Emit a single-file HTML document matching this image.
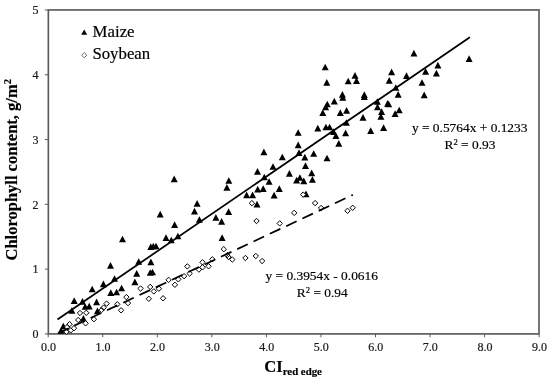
<!DOCTYPE html>
<html><head><meta charset="utf-8"><style>
html,body{margin:0;padding:0;background:#fff;}
body{width:550px;height:382px;overflow:hidden;}
svg{display:block;filter:blur(0.35px);}
text{font-family:"Liberation Serif",serif;fill:#000;stroke:#000;stroke-width:0.18px;}
.tk{font-size:12px;fill:#222;}
.lg{font-size:16.8px;}
.eq{font-size:13.4px;}
.ti{font-size:16.5px;font-weight:bold;}
</style></head><body>
<svg width="550" height="382" viewBox="0 0 550 382">
<rect width="550" height="382" fill="#fff"/>
<rect x="48.35" y="9.95" width="490.65" height="323.95" fill="none" stroke="#5a5a5a" stroke-width="1.65"/>
<line x1="44.8" y1="333.90" x2="48.2" y2="333.90" stroke="#5a5a5a" stroke-width="1"/>
<text x="38.6" y="338.10" text-anchor="end" class="tk">0</text>
<line x1="44.8" y1="269.12" x2="48.2" y2="269.12" stroke="#5a5a5a" stroke-width="1"/>
<text x="38.6" y="273.32" text-anchor="end" class="tk">1</text>
<line x1="44.8" y1="204.34" x2="48.2" y2="204.34" stroke="#5a5a5a" stroke-width="1"/>
<text x="38.6" y="208.54" text-anchor="end" class="tk">2</text>
<line x1="44.8" y1="139.56" x2="48.2" y2="139.56" stroke="#5a5a5a" stroke-width="1"/>
<text x="38.6" y="143.76" text-anchor="end" class="tk">3</text>
<line x1="44.8" y1="74.78" x2="48.2" y2="74.78" stroke="#5a5a5a" stroke-width="1"/>
<text x="38.6" y="78.98" text-anchor="end" class="tk">4</text>
<line x1="44.8" y1="10.00" x2="48.2" y2="10.00" stroke="#5a5a5a" stroke-width="1"/>
<text x="38.6" y="14.20" text-anchor="end" class="tk">5</text>
<line x1="48.20" y1="333.9" x2="48.20" y2="337.3" stroke="#5a5a5a" stroke-width="1"/>
<text x="48.50" y="351.4" text-anchor="middle" class="tk">0.0</text>
<line x1="102.75" y1="333.9" x2="102.75" y2="337.3" stroke="#5a5a5a" stroke-width="1"/>
<text x="103.05" y="351.4" text-anchor="middle" class="tk">1.0</text>
<line x1="157.30" y1="333.9" x2="157.30" y2="337.3" stroke="#5a5a5a" stroke-width="1"/>
<text x="157.60" y="351.4" text-anchor="middle" class="tk">2.0</text>
<line x1="211.85" y1="333.9" x2="211.85" y2="337.3" stroke="#5a5a5a" stroke-width="1"/>
<text x="212.15" y="351.4" text-anchor="middle" class="tk">3.0</text>
<line x1="266.40" y1="333.9" x2="266.40" y2="337.3" stroke="#5a5a5a" stroke-width="1"/>
<text x="266.70" y="351.4" text-anchor="middle" class="tk">4.0</text>
<line x1="320.95" y1="333.9" x2="320.95" y2="337.3" stroke="#5a5a5a" stroke-width="1"/>
<text x="321.25" y="351.4" text-anchor="middle" class="tk">5.0</text>
<line x1="375.50" y1="333.9" x2="375.50" y2="337.3" stroke="#5a5a5a" stroke-width="1"/>
<text x="375.80" y="351.4" text-anchor="middle" class="tk">6.0</text>
<line x1="430.05" y1="333.9" x2="430.05" y2="337.3" stroke="#5a5a5a" stroke-width="1"/>
<text x="430.35" y="351.4" text-anchor="middle" class="tk">7.0</text>
<line x1="484.60" y1="333.9" x2="484.60" y2="337.3" stroke="#5a5a5a" stroke-width="1"/>
<text x="484.90" y="351.4" text-anchor="middle" class="tk">8.0</text>
<line x1="539.15" y1="333.9" x2="539.15" y2="337.3" stroke="#5a5a5a" stroke-width="1"/>
<text x="539.45" y="351.4" text-anchor="middle" class="tk">9.0</text>
<path fill="#000" d="M63.30,322.65L66.80,329.35L59.80,329.35ZM61.00,327.15L64.50,333.85L57.50,333.85ZM74.20,297.25L77.70,303.95L70.70,303.95ZM82.50,298.05L86.00,304.75L79.00,304.75ZM96.60,298.45L100.10,305.15L93.10,305.15ZM85.20,303.15L88.70,309.85L81.70,309.85ZM89.20,302.75L92.70,309.45L85.70,309.45ZM71.90,307.15L75.40,313.85L68.40,313.85ZM97.40,307.55L100.90,314.25L93.90,314.25ZM83.40,314.95L86.90,321.65L79.90,321.65ZM92.20,285.65L95.70,292.35L88.70,292.35ZM103.40,280.45L106.90,287.15L99.90,287.15ZM114.50,275.15L118.00,281.85L111.00,281.85ZM134.90,278.55L138.40,285.25L131.40,285.25ZM110.80,289.25L114.30,295.95L107.30,295.95ZM116.60,288.65L120.10,295.35L113.10,295.35ZM121.60,284.65L125.10,291.35L118.10,291.35ZM122.50,235.65L126.00,242.35L119.00,242.35ZM110.50,262.05L114.00,268.75L107.00,268.75ZM138.70,258.15L142.20,264.85L135.20,264.85ZM150.90,258.55L154.40,265.25L147.40,265.25ZM136.70,269.95L140.20,276.65L133.20,276.65ZM150.20,269.15L153.70,275.85L146.70,275.85ZM152.50,268.65L156.00,275.35L149.00,275.35ZM150.80,243.25L154.30,249.95L147.30,249.95ZM153.30,242.85L156.80,249.55L149.80,249.55ZM156.00,242.65L159.50,249.35L152.50,249.35ZM160.20,210.85L163.70,217.55L156.70,217.55ZM174.60,221.25L178.10,227.95L171.10,227.95ZM166.00,234.35L169.50,241.05L162.50,241.05ZM171.30,236.65L174.80,243.35L167.80,243.35ZM177.90,232.65L181.40,239.35L174.40,239.35ZM197.10,199.95L200.60,206.65L193.60,206.65ZM194.50,207.75L198.00,214.45L191.00,214.45ZM199.40,216.15L202.90,222.85L195.90,222.85ZM174.20,175.45L177.70,182.15L170.70,182.15ZM222.10,234.35L225.60,241.05L218.60,241.05ZM228.60,208.35L232.10,215.05L225.10,215.05ZM215.90,214.05L219.40,220.75L212.40,220.75ZM221.60,217.95L225.10,224.65L218.10,224.65ZM257.00,200.75L260.50,207.45L253.50,207.45ZM228.80,177.15L232.30,183.85L225.30,183.85ZM226.90,184.05L230.40,190.75L223.40,190.75ZM257.50,167.95L261.00,174.65L254.00,174.65ZM257.70,185.75L261.20,192.45L254.20,192.45ZM246.60,191.45L250.10,198.15L243.10,198.15ZM252.60,191.45L256.10,198.15L249.10,198.15ZM263.90,148.45L267.40,155.15L260.40,155.15ZM282.30,153.65L285.80,160.35L278.80,160.35ZM299.00,149.25L302.50,155.95L295.50,155.95ZM304.80,153.85L308.30,160.55L301.30,160.55ZM313.70,150.15L317.20,156.85L310.20,156.85ZM273.00,163.15L276.50,169.85L269.50,169.85ZM305.50,162.35L309.00,169.05L302.00,169.05ZM289.40,169.95L292.90,176.65L285.90,176.65ZM311.70,169.55L315.20,176.25L308.20,176.25ZM264.30,173.65L267.80,180.35L260.80,180.35ZM269.10,178.15L272.60,184.85L265.60,184.85ZM296.60,176.75L300.10,183.45L293.10,183.45ZM299.90,174.15L303.40,180.85L296.40,180.85ZM303.80,177.45L307.30,184.15L300.30,184.15ZM312.40,176.15L315.90,182.85L308.90,182.85ZM263.20,185.35L266.70,192.05L259.70,192.05ZM279.30,185.35L282.80,192.05L275.80,192.05ZM274.10,191.85L277.60,198.55L270.60,198.55ZM306.00,190.55L309.50,197.25L302.50,197.25ZM322.80,109.35L326.30,116.05L319.30,116.05ZM340.30,109.35L343.80,116.05L336.80,116.05ZM346.60,107.05L350.10,113.75L343.10,113.75ZM363.00,113.95L366.50,120.65L359.50,120.65ZM317.80,124.85L321.30,131.55L314.30,131.55ZM325.90,123.65L329.40,130.35L322.40,130.35ZM329.60,123.65L333.10,130.35L326.10,130.35ZM346.40,119.15L349.90,125.85L342.90,125.85ZM333.50,128.25L337.00,134.95L330.00,134.95ZM335.90,132.25L339.40,138.95L332.40,138.95ZM345.60,129.55L349.10,136.25L342.10,136.25ZM338.80,140.05L342.30,146.75L335.30,146.75ZM327.00,154.65L330.50,161.35L323.50,161.35ZM298.20,129.15L301.70,135.85L294.70,135.85ZM298.20,141.45L301.70,148.15L294.70,148.15ZM325.20,63.65L328.70,70.35L321.70,70.35ZM326.80,79.05L330.30,85.75L323.30,85.75ZM348.20,77.65L351.70,84.35L344.70,84.35ZM355.00,72.05L358.50,78.75L351.50,78.75ZM356.50,77.25L360.00,83.95L353.00,83.95ZM342.40,91.05L345.90,97.75L338.90,97.75ZM342.80,93.95L346.30,100.65L339.30,100.65ZM334.30,97.75L337.80,104.45L330.80,104.45ZM327.30,100.65L330.80,107.35L323.80,107.35ZM325.60,103.55L329.10,110.25L322.10,110.25ZM391.60,68.45L395.10,75.15L388.10,75.15ZM389.20,76.95L392.70,83.65L385.70,83.65ZM406.50,72.25L410.00,78.95L403.00,78.95ZM364.30,91.35L367.80,98.05L360.80,98.05ZM364.30,93.35L367.80,100.05L360.80,100.05ZM395.80,84.15L399.30,90.85L392.30,90.85ZM398.20,90.95L401.70,97.65L394.70,97.65ZM377.30,98.15L380.80,104.85L373.80,104.85ZM377.50,103.45L381.00,110.15L374.00,110.15ZM388.70,100.65L392.20,107.35L385.20,107.35ZM387.60,100.05L391.10,106.75L384.10,106.75ZM399.20,106.65L402.70,113.35L395.70,113.35ZM413.90,49.85L417.40,56.55L410.40,56.55ZM425.60,67.95L429.10,74.65L422.10,74.65ZM437.90,61.85L441.40,68.55L434.40,68.55ZM436.40,69.75L439.90,76.45L432.90,76.45ZM469.10,55.35L472.60,62.05L465.60,62.05ZM422.00,79.15L425.50,85.85L418.50,85.85ZM424.20,91.55L427.70,98.25L420.70,98.25ZM381.60,108.35L385.10,115.05L378.10,115.05ZM380.90,112.95L384.40,119.65L377.40,119.65ZM395.10,110.35L398.60,117.05L391.60,117.05ZM370.70,127.35L374.20,134.05L367.20,134.05ZM383.60,124.35L387.10,131.05L380.10,131.05Z"/>
<path fill="#fff" stroke="#000" stroke-width="1.0" d="M69.60,321.50L72.30,324.20L69.60,326.90L66.90,324.20ZM67.10,324.40L69.80,327.10L67.10,329.80L64.40,327.10ZM74.00,325.50L76.70,328.20L74.00,330.90L71.30,328.20ZM70.70,327.70L73.40,330.40L70.70,333.10L68.00,330.40ZM66.40,329.10L69.10,331.80L66.40,334.50L63.70,331.80ZM78.20,317.30L80.90,320.00L78.20,322.70L75.50,320.00ZM80.00,310.30L82.70,313.00L80.00,315.70L77.30,313.00ZM86.30,310.10L89.00,312.80L86.30,315.50L83.60,312.80ZM85.60,320.60L88.30,323.30L85.60,326.00L82.90,323.30ZM93.90,316.50L96.60,319.20L93.90,321.90L91.20,319.20ZM101.50,307.30L104.20,310.00L101.50,312.70L98.80,310.00ZM103.60,304.90L106.30,307.60L103.60,310.30L100.90,307.60ZM106.60,300.90L109.30,303.60L106.60,306.30L103.90,303.60ZM117.30,301.60L120.00,304.30L117.30,307.00L114.60,304.30ZM121.10,307.60L123.80,310.30L121.10,313.00L118.40,310.30ZM126.40,294.40L129.10,297.10L126.40,299.80L123.70,297.10ZM128.00,300.40L130.70,303.10L128.00,305.80L125.30,303.10ZM140.60,285.80L143.30,288.50L140.60,291.20L137.90,288.50ZM150.20,284.20L152.90,286.90L150.20,289.60L147.50,286.90ZM153.80,288.70L156.50,291.40L153.80,294.10L151.10,291.40ZM158.90,286.00L161.60,288.70L158.90,291.40L156.20,288.70ZM148.80,296.10L151.50,298.80L148.80,301.50L146.10,298.80ZM163.10,295.60L165.80,298.30L163.10,301.00L160.40,298.30ZM168.60,277.20L171.30,279.90L168.60,282.60L165.90,279.90ZM174.90,282.10L177.60,284.80L174.90,287.50L172.20,284.80ZM178.30,276.60L181.00,279.30L178.30,282.00L175.60,279.30ZM184.10,273.50L186.80,276.20L184.10,278.90L181.40,276.20ZM189.60,270.80L192.30,273.50L189.60,276.20L186.90,273.50ZM187.30,263.70L190.00,266.40L187.30,269.10L184.60,266.40ZM198.90,266.90L201.60,269.60L198.90,272.30L196.20,269.60ZM202.50,264.60L205.20,267.30L202.50,270.00L199.80,267.30ZM202.50,259.60L205.20,262.30L202.50,265.00L199.80,262.30ZM208.60,263.60L211.30,266.30L208.60,269.00L205.90,266.30ZM212.30,256.60L215.00,259.30L212.30,262.00L209.60,259.30ZM223.80,246.50L226.50,249.20L223.80,251.90L221.10,249.20ZM227.20,252.50L229.90,255.20L227.20,257.90L224.50,255.20ZM228.50,254.30L231.20,257.00L228.50,259.70L225.80,257.00ZM232.30,256.80L235.00,259.50L232.30,262.20L229.60,259.50ZM245.40,255.30L248.10,258.00L245.40,260.70L242.70,258.00ZM255.80,253.30L258.50,256.00L255.80,258.70L253.10,256.00ZM262.10,258.30L264.80,261.00L262.10,263.70L259.40,261.00ZM251.90,200.50L254.60,203.20L251.90,205.90L249.20,203.20ZM256.50,218.30L259.20,221.00L256.50,223.70L253.80,221.00ZM279.70,220.70L282.40,223.40L279.70,226.10L277.00,223.40ZM294.20,210.20L296.90,212.90L294.20,215.60L291.50,212.90ZM303.20,191.90L305.90,194.60L303.20,197.30L300.50,194.60ZM315.10,200.40L317.80,203.10L315.10,205.80L312.40,203.10ZM321.10,205.30L323.80,208.00L321.10,210.70L318.40,208.00ZM347.50,208.10L350.20,210.80L347.50,213.50L344.80,210.80ZM352.70,205.10L355.40,207.80L352.70,210.50L350.00,207.80Z"/>
<line x1="57.47" y1="319.56" x2="469.87" y2="37.28" stroke="#000" stroke-width="1.75"/>
<line x1="58.02" y1="333.28" x2="352.86" y2="194.84" stroke="#000" stroke-width="1.75" stroke-dasharray="11.6 6.4"/>
<path fill="#000" d="M84.20,29.40L87.20,34.80L81.20,34.80Z"/>
<path fill="#fff" stroke="#666" stroke-width="1" d="M84.20,52.60L86.80,55.20L84.20,57.80L81.60,55.20Z"/>
<text x="92.6" y="36.6" class="lg">Maize</text>
<text x="92.4" y="59.3" class="lg">Soybean</text>
<text x="469.7" y="132.3" text-anchor="middle" class="eq">y = 0.5764x + 0.1233</text>
<text x="470" y="148.9" text-anchor="middle" class="eq">R<tspan dy="-4.3" font-size="8.6">2</tspan><tspan dy="4.3"> = 0.93</tspan></text>
<text x="321.7" y="280.3" text-anchor="middle" class="eq">y = 0.3954x - 0.0616</text>
<text x="322.3" y="296.9" text-anchor="middle" class="eq">R<tspan dy="-4.3" font-size="8.6">2</tspan><tspan dy="4.3"> = 0.94</tspan></text>
<text transform="translate(17.2,169.8) rotate(-90)" text-anchor="middle" class="ti">Chlorophyll content, g/m<tspan dy="-6" font-size="10.5">2</tspan></text>
<text x="264.3" y="371.6" class="ti" style="font-size:16.6px">CI<tspan dy="3.4" font-size="10.8">red edge</tspan></text>
</svg>
</body></html>
